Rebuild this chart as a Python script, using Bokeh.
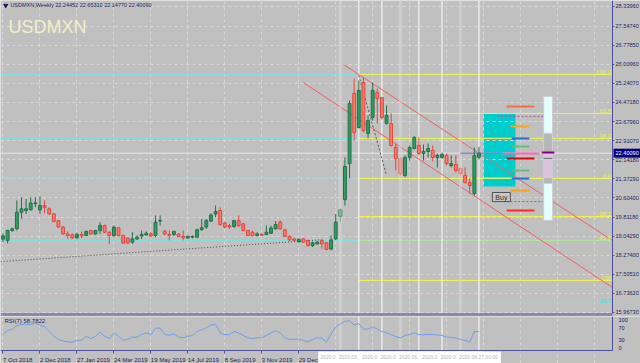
from bokeh.plotting import figure
from bokeh.layouts import column
from bokeh.models import FixedTicker, NumeralTickFormatter, Grid, Range1d, ColumnDataSource
from bokeh.core.properties import value
from bokeh.embed import file_html
from bokeh.resources import INLINE

# ---------------- data ----------------
symbol = "USDMXN"
title_text = "USDMXN,Weekly  22.24452 22.65310 22.14770 22.40090"

opens = [18.92, 18.87, 19.27, 19.34, 20.01, 20.08, 20.11, 20.35, 20.11, 20.28,
         20.15, 19.94, 19.67, 19.41, 19.13, 19.10, 18.97, 19.11, 19.07, 19.27,
         19.13, 19.27, 19.47, 19.20, 19.07, 19.38, 19.07, 18.97, 18.80, 18.93,
         19.05, 19.09, 19.13, 19.07, 19.65, 19.24, 19.11, 19.11, 19.13, 19.03,
         18.97, 19.00, 19.00, 19.30, 19.41, 19.65, 19.94, 20.08, 19.57, 19.47,
         19.43, 19.67, 19.54, 19.27, 19.20, 19.07, 19.11, 19.11, 19.16, 19.34,
         19.61, 19.30, 19.03, 18.93, 18.82, 18.93, 18.87, 18.66, 18.73, 18.87,
         18.77, 18.52, 18.93, 19.84, 20.52, 21.98, 24.82, 23.44, 25.26, 23.20,
         23.85, 24.86, 24.65, 23.60, 23.60, 22.63, 22.18, 21.50, 22.23, 22.59,
         22.71, 22.39, 22.47, 22.51, 22.23, 22.23, 22.31, 21.90, 21.94, 21.78,
         21.50, 21.21, 20.77, 22.24]
highs = [19.14, 19.30, 19.38, 20.49, 20.62, 20.55, 20.62, 20.62, 20.66, 20.49,
         20.21, 19.97, 19.70, 19.45, 19.24, 19.15, 19.18, 19.23, 19.27, 19.30,
         19.30, 19.61, 19.51, 19.24, 19.47, 19.41, 19.10, 19.00, 19.20, 19.07,
         19.27, 19.23, 19.20, 19.88, 19.88, 19.30, 19.27, 19.27, 19.16, 19.27,
         19.07, 19.07, 19.34, 19.74, 19.74, 19.97, 20.28, 20.21, 19.61, 19.54,
         19.70, 19.88, 19.57, 19.30, 19.27, 19.20, 19.16, 19.47, 19.47, 19.65,
         19.67, 19.34, 19.07, 18.97, 18.95, 18.97, 18.89, 18.82, 18.84, 18.93,
         18.80, 19.07, 19.94, 20.15, 22.23, 24.53, 25.42, 25.34, 25.46, 23.93,
         25.26, 25.02, 24.67, 24.33, 24.01, 22.79, 22.23, 22.31, 22.71, 23.08,
         23.04, 22.75, 22.79, 22.71, 22.39, 22.43, 22.39, 22.31, 22.31, 21.82,
         21.82, 21.38, 22.63, 22.65]
lows = [18.80, 18.75, 19.22, 19.27, 19.75, 19.94, 20.08, 20.21, 19.94, 19.97,
        19.90, 19.60, 19.37, 19.10, 18.93, 18.93, 18.95, 18.97, 19.03, 19.10,
        19.09, 19.13, 19.16, 18.73, 19.00, 19.03, 18.73, 18.73, 18.73, 18.89,
        18.93, 19.05, 19.00, 19.00, 19.47, 19.07, 18.87, 19.05, 19.00, 18.87,
        18.93, 18.95, 18.97, 19.27, 19.34, 19.61, 19.81, 19.47, 19.37, 19.34,
        19.38, 19.41, 19.24, 19.03, 19.03, 19.03, 19.05, 19.07, 19.13, 19.30,
        19.30, 19.00, 18.84, 18.82, 18.77, 18.77, 18.62, 18.60, 18.70, 18.53,
        18.47, 18.47, 18.89, 19.61, 20.28, 21.38, 22.91, 23.40, 23.24, 23.00,
        23.72, 23.60, 23.76, 23.56, 22.67, 21.70, 21.50, 21.42, 22.10, 22.55,
        22.31, 22.10, 22.23, 22.06, 21.82, 22.18, 21.90, 21.82, 21.62, 21.50,
        21.17, 20.77, 20.69, 22.15]
closes = [19.05, 19.27, 19.34, 20.01, 20.15, 20.15, 20.38, 20.39, 20.28, 20.21,
          19.94, 19.63, 19.41, 19.13, 19.07, 18.97, 19.11, 19.05, 19.23, 19.13,
          19.27, 19.47, 19.20, 19.07, 19.41, 19.07, 18.76, 18.76, 18.93, 19.00,
          19.11, 19.16, 19.05, 19.61, 19.67, 19.13, 19.07, 19.23, 19.03, 18.97,
          19.03, 19.03, 19.30, 19.38, 19.67, 19.90, 20.04, 19.51, 19.41, 19.41,
          19.67, 19.47, 19.27, 19.07, 19.07, 19.13, 19.08, 19.20, 19.37, 19.51,
          19.34, 19.03, 18.89, 18.87, 18.91, 18.80, 18.66, 18.77, 18.80, 18.73,
          18.50, 18.89, 19.61, 20.11, 21.86, 24.41, 23.24, 24.94, 23.32, 23.72,
          24.94, 24.61, 23.85, 23.93, 22.71, 22.18, 21.58, 22.23, 22.63, 23.04,
          22.39, 22.47, 22.59, 22.23, 22.31, 22.35, 21.98, 21.98, 21.70, 21.58,
          21.21, 21.09, 22.31, 22.40]
rsi = [48, 63, 67, 80, 84, 85, 84, 88, 82, 76,
       59, 42, 31, 25, 22, 21, 28, 28, 42, 34,
       42, 57, 42, 34, 54, 42, 28, 31, 39, 39,
       48, 54, 48, 71, 71, 48, 46, 50, 39, 37,
       42, 45, 59, 65, 73, 82, 85, 54, 48, 48,
       59, 54, 45, 37, 34, 37, 37, 45, 54, 62,
       54, 37, 31, 31, 32, 28, 22, 31, 37, 35,
       22, 50, 76, 86, 95, 98, 82, 87, 67, 68,
       76, 67, 59, 55, 48, 41, 37, 45, 48, 54,
       48, 47, 49, 48, 47, 45, 39, 38, 36, 31,
       27, 22, 59, 58.78]
rsi_label = "RSI(7) 58.7822"

price_ticks = [15.9673, 16.7362, 17.5051, 18.2740, 19.0429, 19.8118, 20.6040, 21.3729,
               22.1418, 22.9107, 23.6796, 24.4718, 25.2407, 26.0096, 26.7785, 27.5474, 28.3396]
rsi_ticks = [0, 30, 70, 100]
date_label_bars = [0, 8, 16, 24, 32, 40, 48, 56, 64]
date_labels = ["7 Oct 2018", "2 Dec 2018", "27 Jan 2019", "24 Mar 2019", "19 May 2019",
               "14 Jul 2019", "8 Sep 2019", "3 Nov 2019", "29 Dec 2019"]
grid_bars = list(range(0, 129, 8))
bid = 22.4009
bid_text = "22.40090"

fib_labels = ["100.0", "61.8", "38.2", "0.0", "-38.2", "-61.8", "-100"]
fib_prices = [25.59, 24.01, 23.00, 21.38, 19.84, 18.87, 17.25]
fib_start_bar = 77
cyan_levels = [25.59, 23.00, 21.40, 18.87, 16.32]
cyan_label = "38.2"
cyan_label_price = 16.32

chan_upper_bars = [73.7, 131.9]
chan_upper_prices = [25.99, 18.86]
chan_lower_bars = [65.0, 131.9]
chan_lower_prices = [25.26, 16.96]
trend_bars = [-0.5, 68.5]
trend_prices = [18.01, 18.89]
fib_diag_bars = [77.0, 83.0]
fib_diag_prices = [25.55, 21.50]

zone_bars = [104.0, 110.9]
zone_prices = [21.05, 24.01]
level_prices = [24.29, 23.48, 23.00, 22.67, 22.39, 22.19, 21.70, 21.38, 20.89, 20.08]
level_start = [109.0, 109.8, 110.1, 110.1, 108.1, 109.0, 110.1, 110.1, 109.8, 109.0]
level_end = [115.0, 113.9, 113.9, 113.9, 116.1, 115.0, 113.9, 113.9, 113.9, 115.0]
level_colors = ["#f86a4c", "#ffa010", "#2070d0", "#5cbf78", "#ff64b4", "#e40000",
                "#5cbf78", "#2070d0", "#ffa010", "#ff2a20"]
bidline_bars = [99.0, 108.1]
dotted_prices = [23.89, 20.44]
dotted_start = [107.0, 109.8]
dotted_end = [117.0, 117.0]
profile_bars = [117.0, 118.9]
profile_bottoms = [23.20, 22.43, 21.42, 21.17, 19.68]
profile_tops = [24.70, 23.20, 22.43, 21.42, 21.17]
profile_colors = ["#e4ffff", "#b6b6b6", "#dcc2dc", "#b6b6b6", "#e4ffff"]
profile_mark_prices = [22.43, 22.19]
buy_bars = [105.9, 109.8]
buy_prices = [20.44, 20.81]
buy_text = "Buy"

vline_white = [77, 82, 90, 95, 103]
vline_grey = [73, 86, 99]
vline_label_bars = [73, 77, 82, 86, 90, 95, 99, 103]
vline_labels_full = ["2020.03.01 00:00", "2020.03.29 00:00", "2020.05.03 00:00", "2020.05.31 00:00",
                     "2020.06.28 00:00", "2020.08.02 00:00", "2020.08.30 00:00", "2020.09.27 00:00"]
vline_labels_shown = ["2020.0", "2020.03.", "2020.0", "2020.0", "2020.06.", "2020.0", "2020.0",
                      "2020.09.27 00:00"]

# ---------------- style / geometry ----------------
BG = "#c0c0c0"
AX = "#50509a"
TXT = "#1c1c5c"
GRID = "#d8d8d8"
FONT = "Liberation Sans"
AXFS = "5.6px"
W, CHART_W = 640, 612
X0, X1 = -0.54, 131.9               # bar range of the chart area (0..612 px)
PX_PER_BAR = CHART_W / (X1 - X0)
XE = X0 + W / PX_PER_BAR            # bar value at the right window edge
YB, Y1 = 15.910, 28.582             # main pane: 0..313 px
H_MAIN = 313
PX_PER_PRICE = H_MAIN / (Y1 - YB)
H1 = 316                            # first figure also holds the pane separator
Y0 = YB - (H1 - H_MAIN) / PX_PER_PRICE

WID = {' ': .278, '.': .278, ':': .278, 'O': .778, 'D': .722, 'J': .5, 'M': .833, 'S': .667,
       'N': .722, 'c': .5, 't': .278, 'e': .556, 'a': .556, 'n': .556, 'r': .333, 'y': .5,
       'u': .556, 'l': .222, 'p': .556, 'o': .556, 'v': .5}


def text_w(s, size):
    return sum(WID.get(ch, .556) for ch in s) * size


def px_bars(px):
    return px / PX_PER_BAR


def py_price(py):
    return Y1 - py / PX_PER_PRICE


# ---------------- main pane ----------------
p1 = figure(frame_width=W, frame_height=H1, output_backend="svg", toolbar_location=None,
            x_range=Range1d(X0, XE), y_range=Range1d(Y0, Y1),
            x_axis_location=None, y_axis_location="right",
            background_fill_color=BG, border_fill_color=BG,
            min_border_left=0, min_border_top=0, min_border_bottom=0, min_border_right=0,
            outline_line_color=None)
p1.xgrid.visible = False
p1.ygrid.visible = False
p1.add_layout(Grid(dimension=0, ticker=FixedTicker(ticks=grid_bars), grid_line_color=GRID,
                   grid_line_dash="3 3", bounds=(YB, Y1)))
p1.add_layout(Grid(dimension=1, ticker=FixedTicker(ticks=price_ticks), grid_line_color=GRID,
                   grid_line_dash="3 3", bounds=(X0, X1)))
ya = p1.yaxis[0]
ya.fixed_location = X1
ya.bounds = (YB, Y1)
ya.ticker = FixedTicker(ticks=price_ticks)
ya.formatter = NumeralTickFormatter(format="0.00000")
ya.major_label_text_font_size = AXFS
ya.major_label_text_font = FONT
ya.major_label_text_color = TXT
ya.axis_line_color = AX
ya.major_tick_line_color = AX
ya.major_tick_out = 2
ya.major_tick_in = 0
ya.minor_tick_out = 0
ya.minor_tick_in = 0
ya.major_label_standoff = 1

n = len(opens)
xs = list(range(n))

# background zone (under grid)
p1.quad(left=[zone_bars[0]], right=[zone_bars[1]], bottom=[zone_prices[0]], top=[zone_prices[1]],
        fill_color="#00cccc", line_color=None, level="image")

# horizontal levels
p1.segment(x0=[X0] * len(cyan_levels), x1=[X1] * len(cyan_levels), y0=cyan_levels, y1=cyan_levels,
           line_color="#80e0e0", line_width=1)
fib_alpha = [1, 1, 1, 1, 1, 0.45, 1]
p1.segment(x0=[fib_start_bar] * len(fib_prices), x1=[X1] * len(fib_prices), y0=fib_prices,
           y1=fib_prices, line_color="#f4f44a", line_width=1, line_alpha=fib_alpha)
p1.segment(x0=[X0], x1=[X1], y0=[bid], y1=[bid], line_color="#e6e6e6", line_width=1)

# white vertical lines
p1.segment(x0=vline_white, x1=vline_white, y0=[YB] * len(vline_white), y1=[Y1] * len(vline_white),
           line_color="white", line_width=1)

# trend lines
p1.line(chan_upper_bars, chan_upper_prices, line_color="#f06060", line_width=1)
p1.line(chan_lower_bars, chan_lower_prices, line_color="#f06060", line_width=1)
p1.line(trend_bars, trend_prices, line_color="#484848", line_width=1, line_dash="1 2")
p1.line(fib_diag_bars, fib_diag_prices, line_color="#585858", line_width=1, line_dash="2 2")

# candles
up = [c >= o for o, c in zip(opens, closes)]
src = ColumnDataSource(dict(
    x=xs, high=highs, low=lows,
    top=[max(o, c) for o, c in zip(opens, closes)],
    bottom=[min(o, c) for o, c in zip(opens, closes)],
    fill=["#2f9e5f" if u else "#f47d6e" for u in up],
    line=["#23704a" if u else "#e0473b" for u in up]))
p1.segment(x0="x", x1="x", y0="low", y1="high", line_color="line", line_width=1, source=src)
p1.vbar(x="x", width=0.62, top="top", bottom="bottom", fill_color="fill", line_color="line",
        line_width=1, source=src)

# translucent grey vertical lines over candles
p1.segment(x0=vline_grey, x1=vline_grey, y0=[YB] * len(vline_grey), y1=[Y1] * len(vline_grey),
           line_color="#e0e0e0", line_width=3, line_alpha=0.45)

# indicator objects
p1.segment(x0=[bidline_bars[0]], x1=[bidline_bars[1]], y0=[bid], y1=[bid],
           line_color="#5c5cd6", line_width=1)
p1.segment(x0=dotted_start, x1=dotted_end, y0=dotted_prices, y1=dotted_prices,
           line_color="#9060a0", line_width=1, line_dash="2 2")
p1.segment(x0=level_start, x1=level_end, y0=level_prices, y1=level_prices,
           line_color=level_colors, line_width=2)
p1.quad(left=[profile_bars[0]] * 5, right=[profile_bars[1]] * 5, bottom=profile_bottoms,
        top=profile_tops, fill_color=profile_colors, line_color="#cfcfcf", line_width=1)
p1.segment(x0=[profile_bars[0] - 0.4, profile_bars[0]], x1=[profile_bars[1] + 0.4, profile_bars[1]],
           y0=profile_mark_prices, y1=profile_mark_prices,
           line_color=["#800080", "#707070"], line_width=[2, 1])
p1.quad(left=[buy_bars[0]], right=[buy_bars[1]], bottom=[buy_prices[0]], top=[buy_prices[1]],
        fill_color="#c6c6c6", line_color="#505050", line_width=1)
p1.text(x=[(buy_bars[0] + buy_bars[1]) / 2], y=[(buy_prices[0] + buy_prices[1]) / 2], text=[buy_text],
        text_align="center", text_baseline="middle", text_font=value(FONT),
        text_font_size="7px", text_color="#303030")

# texts
p1.text(x=[X1 - 0.3] * len(fib_labels), y=fib_prices, text=fib_labels, text_align="right",
        text_baseline="bottom", text_font=value(FONT), text_font_size="6px", text_color="#f0f040")
p1.text(x=[X1 - 0.3], y=[cyan_label_price], text=[cyan_label], text_align="right",
        text_baseline="bottom", text_font=value(FONT), text_font_size="6px", text_color="#40e0e0")
p1.text(x=[1.19], y=[27.49], text=[symbol], text_align="left", text_baseline="middle",
        text_font=value(FONT), text_font_size="18px", text_color="#f3efc6")
p1.scatter(x=[0.6], y=[28.38], marker="inverted_triangle", size=4, color=TXT)
p1.text(x=[1.6], y=[28.38], text=[title_text], text_align="left", text_baseline="middle",
        text_font=value(FONT), text_font_size="5.5px", text_color=TXT)

# pane separator: bottom border of main pane + top border of RSI pane
p1.segment(x0=[X0, X0], x1=[X1, X1], y0=[py_price(313.5), py_price(315.5)],
           y1=[py_price(313.5), py_price(315.5)], line_color=AX, line_width=1)

# current price tag on the price scale
tag_h = 4.5 / PX_PER_PRICE
p1.quad(left=[X1 + px_bars(1)], right=[XE], bottom=[bid - tag_h], top=[bid + tag_h],
        fill_color="#000080", line_color=None, level="overlay")
p1.text(x=[X1 + px_bars(3)], y=[bid], text=[bid_text], text_align="left", text_baseline="middle",
        text_font=value(FONT), text_font_size=AXFS, text_color="white", level="overlay")

# ---------------- RSI pane ----------------
R0 = -8.5                        # at 350 px (pane bottom)
K = (350 - 319.5) / (100 - R0)   # px per RSI unit (100 at 319.5 px)
RT = R0 + 34 / K                 # frame top (316 px)
RB = R0 - 13 / K                 # frame bottom (363 px)
p2 = figure(frame_width=W, frame_height=47, output_backend="svg", toolbar_location=None,
            x_range=p1.x_range, y_range=Range1d(RB, RT),
            x_axis_location="below", y_axis_location="right",
            background_fill_color=BG, border_fill_color=BG,
            min_border_left=0, min_border_top=0, min_border_bottom=0, min_border_right=0,
            outline_line_color=None)
p2.xgrid.visible = False
p2.ygrid.visible = False
p2.add_layout(Grid(dimension=0, ticker=FixedTicker(ticks=grid_bars), grid_line_color=GRID,
                   grid_line_dash="3 3", bounds=(R0, RT)))

label_ticks = [round(b + px_bars(text_w(s, 6) / 2), 3) for b, s in zip(date_label_bars, date_labels)]
xa = p2.xaxis[0]
xa.fixed_location = R0
xa.bounds = (X0, X1)
xa.ticker = FixedTicker(ticks=label_ticks, minor_ticks=date_label_bars)
xa.major_label_overrides = {t: s for t, s in zip(label_ticks, date_labels)}
xa.major_label_text_font_size = "6px"
xa.major_label_text_font = FONT
xa.major_label_text_color = TXT
xa.axis_line_color = AX
xa.major_tick_out = 0
xa.major_tick_in = 0
xa.minor_tick_out = 3
xa.minor_tick_in = 0
xa.minor_tick_line_color = AX
xa.major_label_standoff = 3

ra = p2.yaxis[0]
ra.fixed_location = X1
ra.bounds = (R0, RT)
ra.ticker = FixedTicker(ticks=rsi_ticks)
ra.major_label_text_font_size = AXFS
ra.major_label_text_font = FONT
ra.major_label_text_color = TXT
ra.axis_line_color = AX
ra.major_tick_out = 0
ra.major_tick_in = 0
ra.minor_tick_out = 0
ra.minor_tick_in = 0
ra.major_label_standoff = 6

p2.segment(x0=vline_white, x1=vline_white, y0=[R0] * len(vline_white), y1=[RT] * len(vline_white),
           line_color="white", line_width=1)
p2.segment(x0=vline_grey, x1=vline_grey, y0=[R0] * len(vline_grey), y1=[RT] * len(vline_grey),
           line_color="#e0e0e0", line_width=3, line_alpha=0.45)
p2.line(xs, rsi, line_color="#6d9eeb", line_width=1)
p2.text(x=[0.33], y=[R0 + 30 / K], text=[rsi_label], text_align="left", text_baseline="middle",
        text_font=value(FONT), text_font_size="6px", text_color=TXT)

# vertical-line date tags on the time scale (each covers the previous one)
tag_top = R0 - 1 / K
tag_bot = R0 - 12.5 / K
tag_mid = R0 - 6.5 / K
for b, full, shown in zip(vline_label_bars, vline_labels_full, vline_labels_shown):
    left = b - px_bars(22)
    right = left + px_bars(text_w(full, 5) + 5)
    p2.quad(left=[left], right=[right], bottom=[tag_bot], top=[tag_top],
            fill_color="white", line_color=None, level="overlay")
    p2.text(x=[left + px_bars(2)], y=[tag_mid], text=[shown], text_align="left",
            text_baseline="middle", text_font=value(FONT), text_font_size="5px",
            text_color="#b4b4b4", level="overlay")

layout = column(p1, p2, spacing=0)
open("out.html", "w").write(file_html(layout, INLINE))
